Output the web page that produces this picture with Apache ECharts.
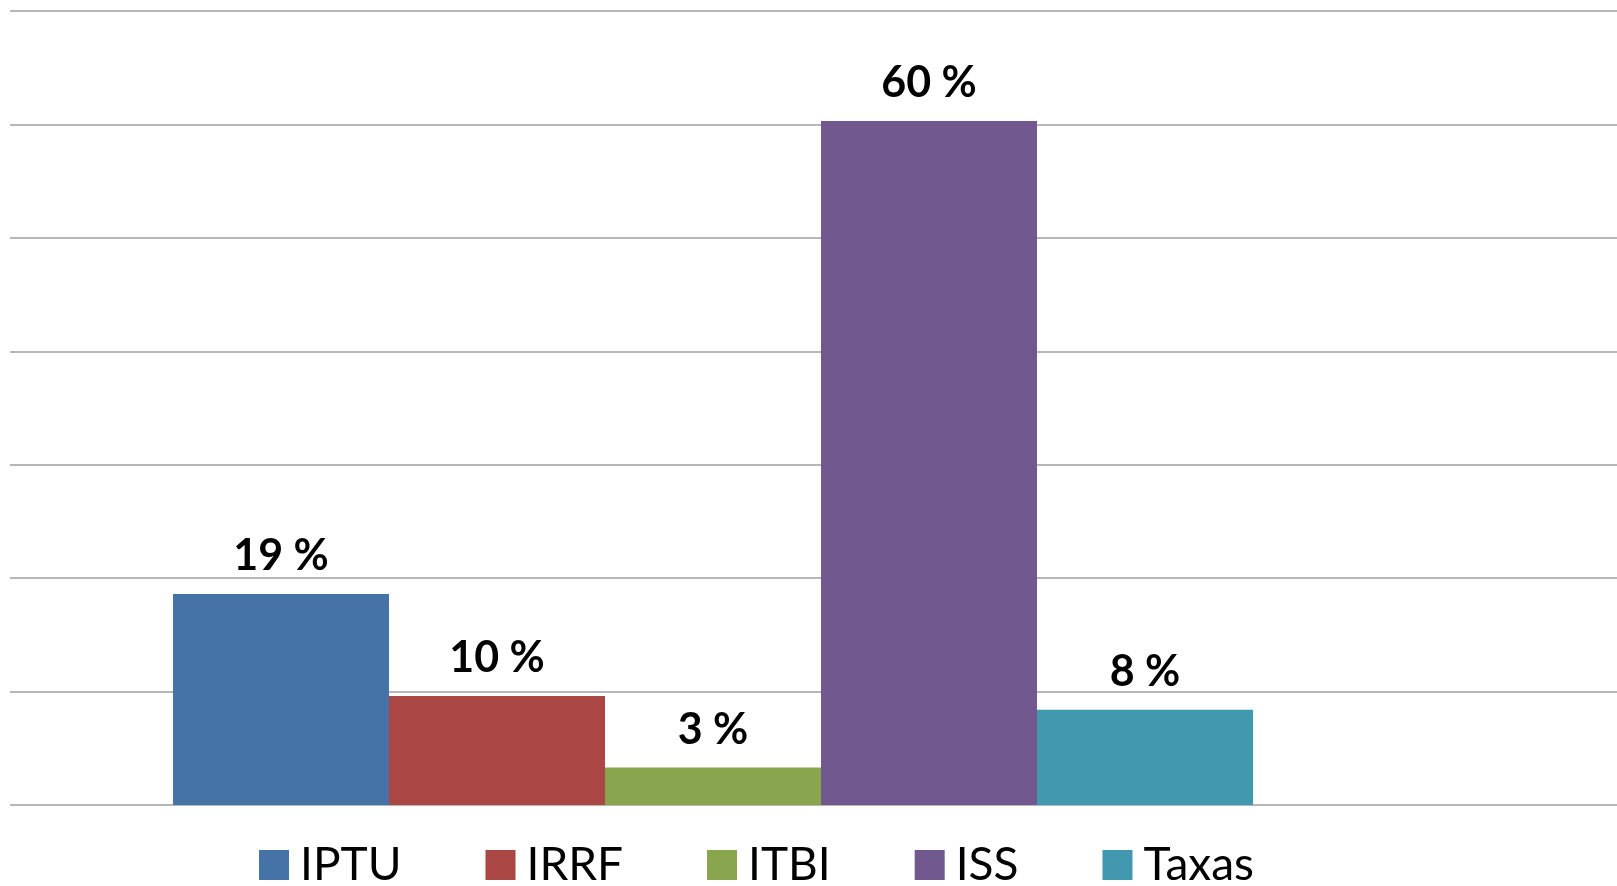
<!DOCTYPE html>
<html>
<head>
<meta charset="utf-8">
<script src="https://cdn.jsdelivr.net/npm/echarts@6/dist/echarts.min.js"></script>
<style>
  html, body { margin: 0; padding: 0; background: #fff; }
  #chart { width: 1617px; height: 886px; }
</style>
</head>
<body>
<div id="chart"></div>
<script>
// dados
var categories = ['IPTU', 'IRRF', 'ITBI', 'ISS', 'Taxas'];
var values = [18.6, 9.6, 3.3, 60.3, 8.4];
var labels = ['19 %', '10 %', '3 %', '60 %', '8 %'];
var colors = ['#4572A7', '#AA4643', '#89A54E', '#71588F', '#4198AF'];
var yTicks = [0, 10, 20, 30, 40, 50, 60, 70];

var FONT = 'Lato, "Open Sans", sans-serif';

var series = categories.map(function (name, i) {
    return {
        name: name,
        type: 'bar',
        xAxisIndex: 0,
        yAxisIndex: 0,
        barGap: 0,
        barCategoryGap: 0,
        itemStyle: { color: colors[i] },
        label: {
            show: true,
            position: 'top',
            distance: 16,
            formatter: labels[i],
            color: '#000',
            fontFamily: FONT,
            fontWeight: 'bold',
            fontSize: 43
        },
        data: [values[i]]
    };
});

var yMin = yTicks[0];
var yMax = yTicks[yTicks.length - 1];
var yStep = yTicks[1] - yTicks[0];

var option = {
    animation: false,
    backgroundColor: '#fff',
    legend: {
        left: 259,
        top: 842,
        padding: 0,
        itemWidth: 30,
        itemHeight: 30,
        itemGap: 84,
        icon: 'rect',
        textStyle: {
            color: '#000',
            fontFamily: FONT,
            fontSize: 46,
            padding: [0, 0, 0, 6]
        },
        data: categories
    },
    grid: [
        // barras
        { left: 173, width: 1080, top: 11, height: 794 },
        // linhas de grade, ocupam toda a largura
        { left: 10, right: 0, top: 11, height: 794 }
    ],
    xAxis: [
        {
            type: 'category',
            gridIndex: 0,
            data: [''],
            axisLine: { show: false },
            axisTick: { show: false },
            axisLabel: { show: false }
        },
        {
            type: 'category',
            gridIndex: 1,
            data: [''],
            axisLine: { show: false },
            axisTick: { show: false },
            axisLabel: { show: false }
        }
    ],
    yAxis: [
        {
            type: 'value',
            gridIndex: 0,
            min: yMin, max: yMax, interval: yStep,
            axisLine: { show: false },
            axisTick: { show: false },
            axisLabel: { show: false },
            splitLine: { show: false }
        },
        {
            type: 'value',
            gridIndex: 1,
            min: yMin, max: yMax, interval: yStep,
            axisLine: { show: false },
            axisTick: { show: false },
            axisLabel: { show: false },
            splitLine: { show: true, lineStyle: { color: '#9f9f9f', width: 1.5 } }
        }
    ],
    series: series
};

var chart = echarts.init(document.getElementById('chart'));
chart.setOption(option);
</script>
</body>
</html>
